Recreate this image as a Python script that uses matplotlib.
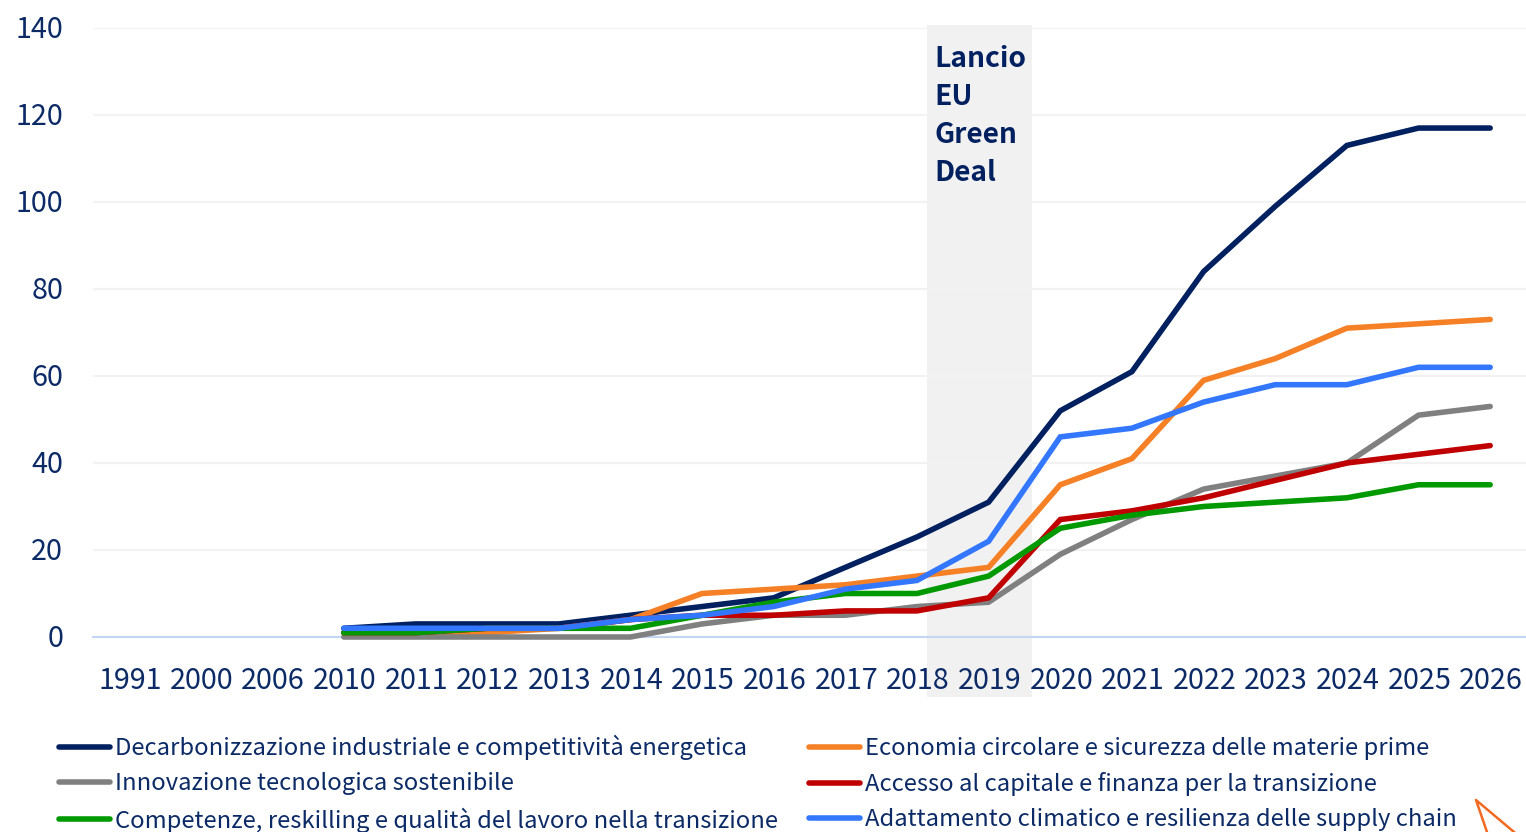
#!/usr/bin/env python3
"""
Temi del Green Deal per anno: line chart with highlighted launch period.
"""

import matplotlib
matplotlib.use('Agg')
import matplotlib.pyplot as plt
from matplotlib.lines import Line2D
from matplotlib.patches import Rectangle
from matplotlib.transforms import ScaledTranslation

plt.rcParams['font.family'] = ['Noto Sans CJK JP', 'DejaVu Sans']

years = ['1991', '2000', '2006', '2010', '2011', '2012', '2013', '2014', '2015', '2016',
         '2017', '2018', '2019', '2020', '2021', '2022', '2023', '2024', '2025', '2026']

decarbonizzazione = [None, None, None, 2, 3, 3, 3, 5, 7, 9, 16, 23, 31, 52, 61, 84, 99, 113, 117, 117]
economia_circolare = [None, None, None, 1, 1, 1, 2, 4, 10, 11, 12, 14, 16, 35, 41, 59, 64, 71, 72, 73]
innovazione = [None, None, None, 0, 0, 0, 0, 0, 3, 5, 5, 7, 8, 19, 27, 34, 37, 40, 51, 53]
capitale = [None, None, None, 1, 1, 2, 2, 4, 5, 5, 6, 6, 9, 27, 29, 32, 36, 40, 42, 44]
competenze = [None, None, None, 1, 1, 2, 2, 2, 5, 8, 10, 10, 14, 25, 28, 30, 31, 32, 35, 35]
adattamento = [None, None, None, 2, 2, 2, 2, 4, 5, 7, 11, 13, 22, 46, 48, 54, 58, 58, 62, 62]

series_names = [
    'Decarbonizzazione industriale e competitività energetica',
    'Economia circolare e sicurezza delle materie prime',
    'Innovazione tecnologica sostenibile',
    'Accesso al capitale e finanza per la transizione',
    'Competenze, reskilling e qualità del lavoro nella transizione',
    'Adattamento climatico e resilienza delle supply chain',
]
series_colors = ['#002060', '#F58025', '#808080', '#C00000', '#009900', '#3377FF']
all_series = [decarbonizzazione, economia_circolare, innovazione, capitale, competenze, adattamento]

TEXT_COLOR = '#0B2A66'
W, H = 1526, 832

fig = plt.figure(figsize=(W / 100, H / 100), dpi=100)
ax = fig.add_axes([93 / W, 1 - 637 / H, (1526 - 93) / W, (637 - 28) / H])

x = list(range(len(years)))
for values, color, name in zip(all_series, series_colors, series_names):
    xs = [i for i, v in zip(x, values) if v is not None]
    ys = [v for v in values if v is not None]
    ax.plot(xs, ys, color=color, linewidth=4.0, solid_capstyle='round',
            solid_joinstyle='miter', label=name, zorder=3, clip_on=False)

ax.set_xlim(-0.5, len(years) - 0.5)
ax.set_ylim(0, 140)
ax.set_xticks(x)
ax.set_xticklabels(years)
ax.set_yticks(range(0, 141, 20))

ax.grid(axis='y', color='#F2F2F2', linewidth=1.5)
ax.set_axisbelow(True)
for side in ['top', 'right', 'left']:
    ax.spines[side].set_visible(False)
ax.spines['bottom'].set_color('#C5D5F5')
ax.spines['bottom'].set_linewidth(1.5)
ax.tick_params(axis='both', length=0, labelsize=20.7, labelcolor=TEXT_COLOR)
ax.tick_params(axis='x', pad=21)
ax.tick_params(axis='y', pad=21.5)

# Nudge the tick labels a touch
for label in ax.get_yticklabels():
    label.set_transform(label.get_transform() + ScaledTranslation(0, 1.5 / 100, fig.dpi_scale_trans))
for label in ax.get_xticklabels():
    label.set_transform(label.get_transform() + ScaledTranslation(1 / 100, 0, fig.dpi_scale_trans))

# Highlighted period, drawn in figure pixels since it runs past the axes
band = Rectangle((927 / W, 1 - 697 / H), 105 / W, 672 / H, transform=fig.transFigure,
                 facecolor='#F1F1F1', edgecolor='none', zorder=0)
fig.add_artist(band)
ax.patch.set_visible(False)
fig.text(934 / W, 1 - 45 / H, 'Lancio\nEU\nGreen\nDeal', fontsize=20.3, fontweight='bold',
         color='#002060', ha='left', va='top', linespacing=1.45)

# Legend reads across the rows, matplotlib fills by column
handles, labels = ax.get_legend_handles_labels()
order = [0, 2, 4, 1, 3, 5]
fig.legend([handles[i] for i in order], [labels[i] for i in order], ncol=2, loc='upper left',
           bbox_to_anchor=(59 / W, 1 - 735 / H), frameon=False, fontsize=17.15,
           labelcolor=TEXT_COLOR, handlelength=2.15, handletextpad=0.2, columnspacing=1.3,
           labelspacing=0.5, borderaxespad=0, borderpad=0)

# Hand-drawn orange arrow tip cut by the bottom edge
fig.add_artist(Line2D([1487 / W, 1476 / W, 1514 / W], [0, 1 - 800 / H, 0],
                      transform=fig.transFigure, color='#F26A21', linewidth=1.8))

fig.savefig('out.png', dpi=100, facecolor='white')
plt.close(fig)
